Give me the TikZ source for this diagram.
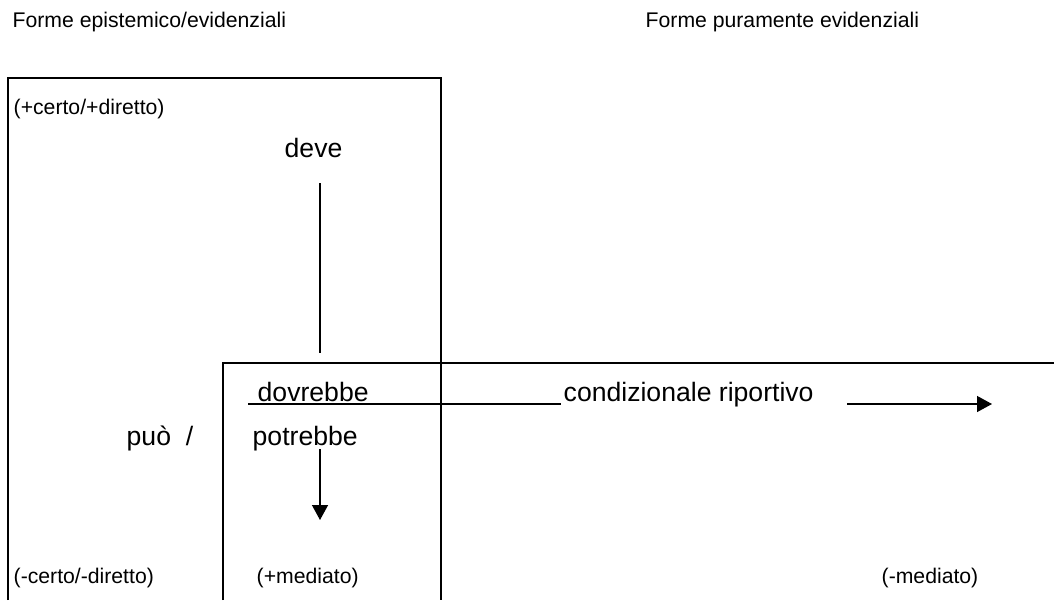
\documentclass[tikz,border=0pt]{standalone}
\usepackage{fontspec}
\setmainfont{Liberation Sans}
\usetikzlibrary{arrows.meta}

\begin{document}
\begin{tikzpicture}[x = 0.5pt, y = -0.5pt, line width = 0.7pt,
	small/.style = {anchor = base west, inner sep = 0pt, font = \fontsize{10.6}{12}\selectfont},
	big/.style = {anchor = base west, inner sep = 0pt, font = \fontsize{13.3}{16}\selectfont},
	tip/.style = {-{Triangle[length = 7.5pt, width = 8pt]}}]%forme
	\useasboundingbox (0,0) rectangle (1054,600);
	\node[small] (EPI) at (12,27) {Forme epistemico/evidenziali};
	\node[small] (PUR) at (645,27) {Forme puramente evidenziali};
	\draw
	(8,600) coordinate (BL) -- (8,78) coordinate (TL) -- (441,78) coordinate (TR) -- (441,600) coordinate (BR)
	(223,600) coordinate (BM) -- (223,363) coordinate (ML) -- (1054,363) coordinate (MR);
	\node[small] (PCERT) at (13,114) {(+certo/+diretto)};
	\node[small] (MCERT) at (13,583) {(-certo/-diretto)};
	\node[small] (PMED) at (256,583) {(+mediato)};
	\node[small] (MMED) at (881,583) {(-mediato)};
	\node[big] (DEVE) at (284,157) {deve};
	\node[big] (DOVR) at (257,401) {dovrebbe};
	\node[big] (COND) at (563,401) {condizionale riportivo};
	\node[big] (PUO) at (126,445) {può\ \ /};
	\node[big] (POTR) at (252,445) {potrebbe};
	\draw
	(320,183) coordinate (D1) -- (320,353) coordinate (D2)
	(248,404) coordinate (L1) -- (561,404) coordinate (L2);
	\draw[tip]
	(320,449) coordinate (P1) -- (320,520) coordinate (P2);
	\draw[tip]
	(847,404) coordinate (C1) -- (992,404) coordinate (C2);
\end{tikzpicture}
\end{document}
